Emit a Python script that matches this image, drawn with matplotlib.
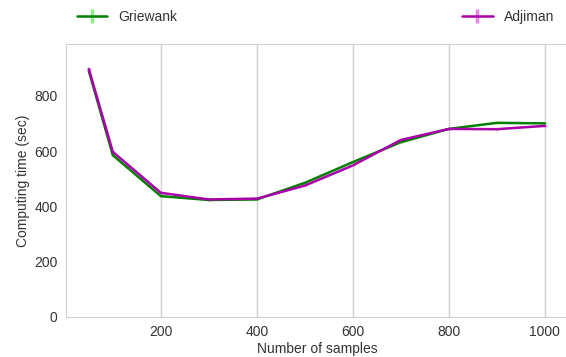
import matplotlib
matplotlib.use("Agg")
import matplotlib.pyplot as plt
import seaborn as sns

samples = [50, 100, 200, 300, 400, 500, 600, 700, 800, 900, 1000]
griewank = [890, 585, 437, 423, 425, 485, 560, 632, 680, 702, 700]
adjiman = [897, 597, 449, 425, 428, 475, 548, 640, 680, 679, 691]
griewank_err = [4, 4, 3, 3, 3, 3, 3, 3, 3, 3, 3]
adjiman_err = [4, 4, 3, 3, 3, 3, 3, 3, 3, 3, 3]

sns.set_style("whitegrid")
plt.rcParams['font.family'] = ['Liberation Sans', 'DejaVu Sans']
plt.rcParams['text.color'] = '#333333'
plt.rcParams['axes.labelcolor'] = '#333333'
plt.rcParams['xtick.color'] = '#333333'
plt.rcParams['ytick.color'] = '#333333'

fig = plt.figure(figsize=(5.66, 3.57), dpi=100)
ax = fig.add_axes([66/566, 40/357, 1.0 - 66/566 + 0.003, (317-44)/357])

ax.errorbar(samples, griewank, yerr=griewank_err, color='green', ecolor='lightgreen',
            lw=1.8, elinewidth=2.5, label='Griewank')
ax.errorbar(samples, adjiman, yerr=adjiman_err, color='#aa00aa', ecolor='violet',
            lw=1.8, elinewidth=2.5, label='Adjiman')

ax.set_xlim(2.5, 1047.5)
ax.set_ylim(0, 987)
ax.set_xticks([200, 400, 600, 800, 1000])
ax.set_yticks([0, 200, 400, 600, 800])
ax.yaxis.grid(False)
ax.xaxis.grid(True, color='#d0d0d0', lw=1)
for s in ax.spines.values():
    s.set_color('#d0d0d0')
ax.tick_params(labelsize=10, length=0, pad=6)
ax.set_xlabel('Number of samples', fontsize=10, labelpad=2)
ax.set_ylabel('Computing time (sec)', fontsize=10, labelpad=3)

ax.legend(bbox_to_anchor=(0.01, 1.052, 0.974, 0.102), loc='lower left', ncol=2,
          mode='expand', borderaxespad=0.0, frameon=False, fontsize=10,
          handlelength=2.2)

fig.savefig('out.png', dpi=100)
